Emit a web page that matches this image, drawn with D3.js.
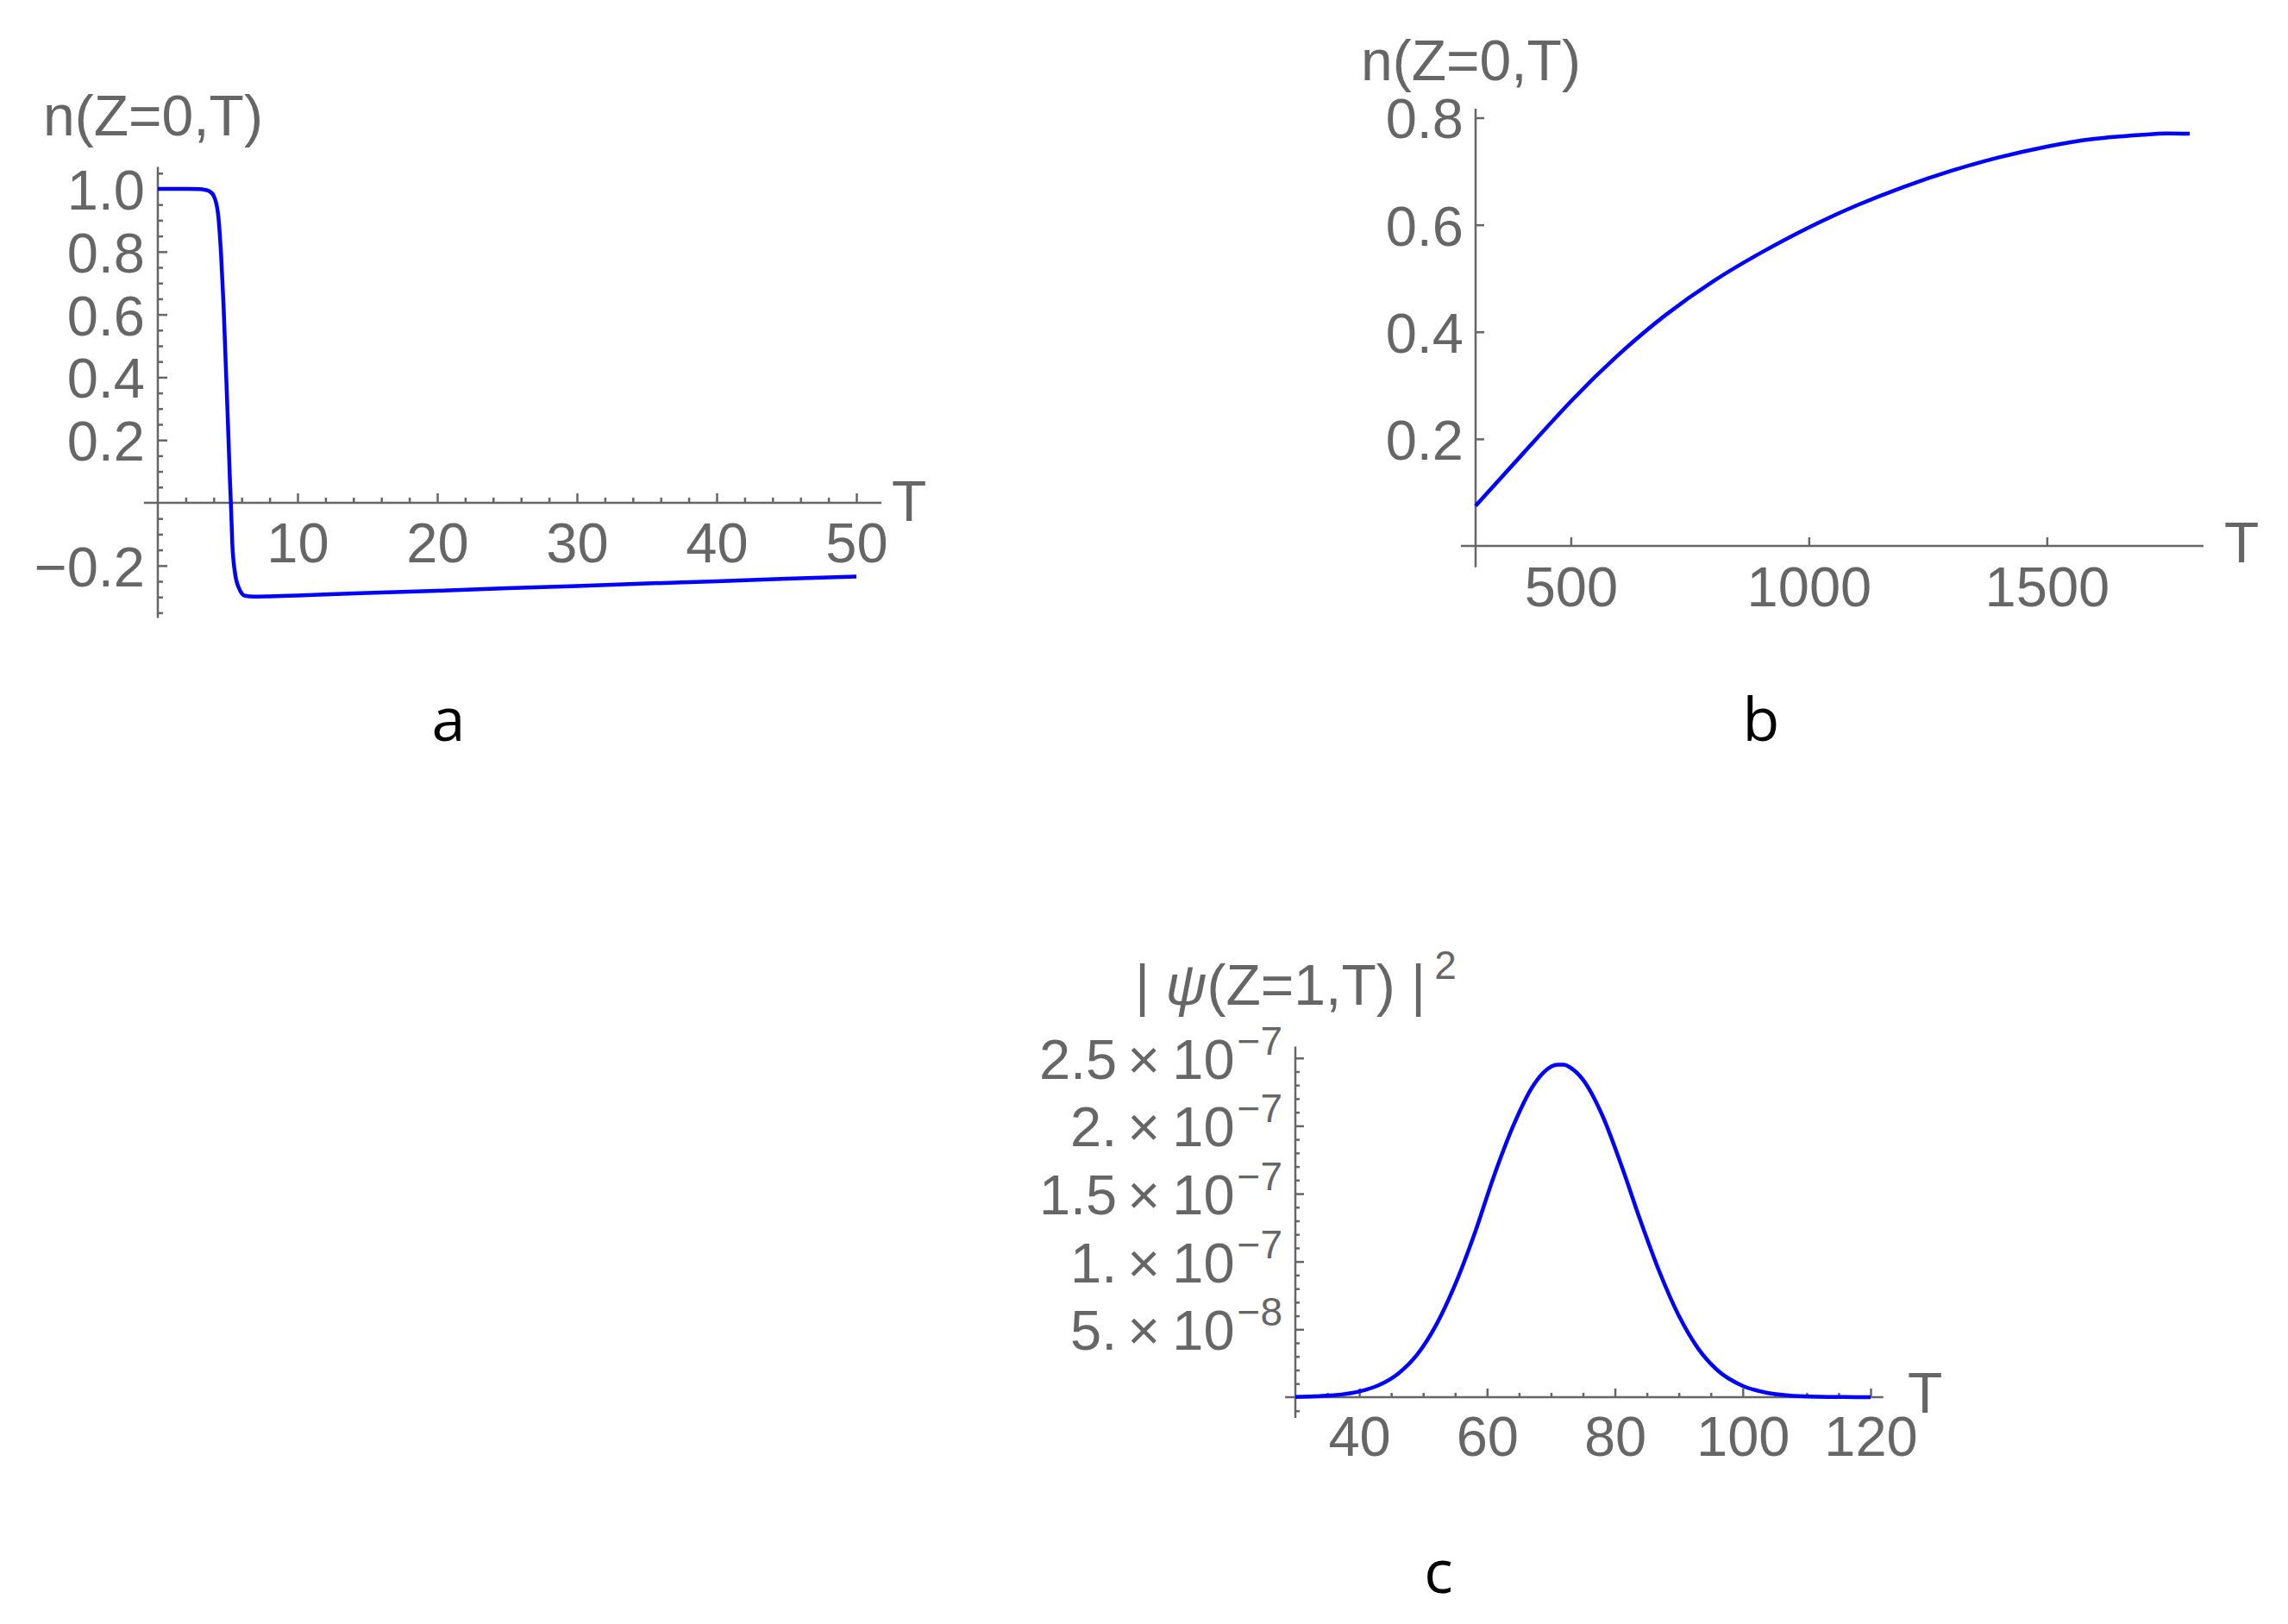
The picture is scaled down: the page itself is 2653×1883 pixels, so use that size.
<!DOCTYPE html>
<meta charset="utf-8">
<style>
  body { margin: 0; background: #fff; }
  svg { display: block; }
  .tick line, .axisline { stroke: #666; stroke-width: 2.5; }
  .ax text, .lab { fill: #666; font-family: "Liberation Sans", Arial, sans-serif; font-size: 65px; }
  .lab { font-size: 66px; }
  .tag { fill: #000; font-family: "Open Sans", sans-serif; font-size: 70px; text-anchor: middle; }
  .curve { fill: none; stroke: #0000ff; stroke-width: 4.5; stroke-linejoin: round; }
</style>
<svg width="2653" height="1883"></svg>
<script src="https://d3js.org/d3.v7.min.js"></script>
<script>

// panel a : n(Z=0,T), short times
var aT = [0, 1, 2, 3, 3.35, 3.7, 4.0, 4.31, 4.52, 4.7, 4.86, 5.02, 5.17, 5.23, 5.33, 5.53, 5.81, 6.23, 6.87, 8, 10, 15, 20, 25, 30, 35, 40, 45, 50];
var aN = [1.0, 1.0, 1.0, 0.999, 0.997, 0.992, 0.978, 0.921, 0.797, 0.634, 0.444, 0.253, 0.062, 0.0, -0.129, -0.225, -0.272, -0.296, -0.299, -0.298, -0.295, -0.287, -0.28, -0.272, -0.265, -0.257, -0.25, -0.242, -0.235];
var aXTicks = [10, 20, 30, 40, 50];
var aYTicks = [-0.2, 0.2, 0.4, 0.6, 0.8, 1.0];
var aYLabels = ["\u22120.2", "0.2", "0.4", "0.6", "0.8", "1.0"];

// panel b : n(Z=0,T), long times
var bT = [300, 400, 500, 600, 700, 800, 900, 1000, 1100, 1200, 1300, 1400, 1500, 1600, 1700, 1750, 1800];
var bN = [0.075, 0.173, 0.27, 0.357, 0.432, 0.495, 0.548, 0.595, 0.636, 0.671, 0.701, 0.726, 0.746, 0.7605, 0.768, 0.7705, 0.770];
var bXTicks = [500, 1000, 1500];
var bYTicks = [0.2, 0.4, 0.6, 0.8];
var bYLabels = ["0.2", "0.4", "0.6", "0.8"];

// panel c : |psi(Z=1,T)|^2
var cT = [30, 33, 36, 40, 43, 46, 49, 52, 55, 58, 61, 64, 67, 69, 71, 72, 73, 75, 78, 81, 84, 87, 90, 93, 96, 100, 104, 108, 112, 116, 120];
var cPsi = [0.002e-7, 0.006e-7, 0.014e-7, 0.042e-7, 0.087e-7, 0.17e-7, 0.31e-7, 0.53e-7, 0.83e-7, 1.2e-7, 1.62e-7, 1.99e-7, 2.28e-7, 2.4e-7, 2.45e-7, 2.45e-7, 2.43e-7, 2.34e-7, 2.08e-7, 1.71e-7, 1.3e-7, 0.92e-7, 0.6e-7, 0.36e-7, 0.2e-7, 0.083e-7, 0.03e-7, 0.01e-7, 0.003e-7, 0.001e-7, 0.0];
var cXTicks = [40, 60, 80, 100, 120];
var cYTicks = [5e-8, 1e-7, 1.5e-7, 2e-7, 2.5e-7];
var cYMant = ["5.", "1.", "1.5", "2.", "2.5"];
var cYExp = ["\u22128", "\u22127", "\u22127", "\u22127", "\u22127"];

var svg = d3.select("svg");

function drawPanel(p) {
  var g = svg.append("g");
  var ox = p.x(p.x0), oy = p.y(0);

  // minor ticks
  g.append("g").attr("class", "ax").attr("transform", "translate(0," + oy + ")")
    .call(d3.axisBottom(p.x).tickValues(p.xMinor).tickSize(-p.minor).tickFormat(""))
    .select(".domain").remove();
  g.append("g").attr("class", "ax").attr("transform", "translate(" + ox + ",0)")
    .call(d3.axisLeft(p.y).tickValues(p.yMinor).tickSize(-p.minor).tickFormat(""))
    .select(".domain").remove();

  // major ticks + labels
  var gx = g.append("g").attr("class", "ax").attr("transform", "translate(0," + oy + ")")
    .call(d3.axisBottom(p.x).tickValues(p.xTicks).tickSize(-p.major).tickFormat(d3.format("d")));
  gx.select(".domain").remove();
  gx.selectAll(".tick text").attr("y", p.xLabDy).attr("dy", null).attr("font-size", null).attr("font-family", null);

  var gy = g.append("g").attr("class", "ax").attr("transform", "translate(" + ox + ",0)")
    .call(d3.axisLeft(p.y).tickValues(p.yTicks).tickSize(-p.major)
      .tickFormat(function(d, i) { return p.yLabels ? p.yLabels[i] : ""; }));
  gy.select(".domain").remove();
  gy.selectAll(".tick text").attr("x", -p.yLabGap).attr("dy", "0.36em").attr("font-size", null).attr("font-family", null);
  if (p.yLabelFn) gy.selectAll(".tick text").each(p.yLabelFn);

  // axis lines
  g.append("line").attr("class", "axisline")
    .attr("x1", p.x(p.xExt[0])).attr("x2", p.x(p.xExt[1])).attr("y1", oy).attr("y2", oy);
  g.append("line").attr("class", "axisline")
    .attr("x1", ox).attr("x2", ox).attr("y1", p.y(p.yExt[0])).attr("y2", p.y(p.yExt[1]));

  // curve
  var line = d3.line()
    .x(function(d) { return p.x(d[0]); })
    .y(function(d) { return p.y(d[1]); })
    .curve(p.curve);
  g.append("path").attr("class", "curve").attr("d", line(d3.zip(p.T, p.V)));

  return g;
}

// ---- a
var ga = drawPanel({
  x: d3.scaleLinear().domain([0, 50]).range([183, 993]),
  y: d3.scaleLinear().domain([0, 1]).range([583, 219]),
  x0: 0, xExt: [-1, 51.8], yExt: [-0.367, 1.07],
  xTicks: aXTicks, yTicks: aYTicks, yLabels: aYLabels,
  xMinor: d3.range(2, 50, 2).filter(function(v) { return v % 10; }),
  yMinor: d3.range(-7, 22).map(function(k) { return k * 0.05; }).filter(function(v) { return Math.abs(Math.round(v * 100)) % 20 && Math.abs(v) > 0.01; }),
  major: 11, minor: 6, xLabDy: 69, yLabGap: 15,
  T: aT, V: aN, curve: d3.curveMonotoneX
});
ga.append("text").attr("class", "lab").attr("x", 50).attr("y", 157).text("n(Z=0,T)");
ga.append("text").attr("class", "lab").attr("x", 1034).attr("y", 604).text("T");
ga.append("text").attr("class", "tag").attr("x", 520).attr("y", 859).text("a");

// ---- b
var gb = drawPanel({
  x: d3.scaleLinear().domain([300, 1800]).range([1711, 2539]),
  y: d3.scaleLinear().domain([0, 0.8]).range([633, 136.5]),
  x0: 300, xExt: [269, 1829], yExt: [-0.04, 0.817],
  xTicks: bXTicks, yTicks: bYTicks, yLabels: bYLabels,
  xMinor: [], yMinor: [],
  major: 10, minor: 5, xLabDy: 70, yLabGap: 14,
  T: bT, V: bN, curve: d3.curveNatural
});
gb.append("text").attr("class", "lab").attr("x", 1578).attr("y", 93).text("n(Z=0,T)");
gb.append("text").attr("class", "lab").attr("x", 2579).attr("y", 652).text("T");
gb.append("text").attr("class", "tag").attr("x", 2042).attr("y", 859).text("b");

// ---- c
var gc = drawPanel({
  x: d3.scaleLinear().domain([30, 120]).range([1502, 2169]),
  y: d3.scaleLinear().domain([0, 2.5e-7]).range([1620, 1226.7]),
  x0: 30, xExt: [28.4, 122], yExt: [-0.153e-7, 2.584e-7],
  xTicks: cXTicks, yTicks: cYTicks, yLabels: null,
  xMinor: d3.range(35, 120, 5).filter(function(v) { return v % 20; }),
  yMinor: d3.range(-1, 25).filter(function(k) { return k % 5; }).map(function(k) { return k * 1e-8; }),
  major: 10, minor: 5, xLabDy: 68, yLabGap: 15,
  yLabelFn: function(d, i) {
    var t = d3.select(this).text(null);
    t.append("tspan").text(cYMant[i]);
    t.append("tspan").attr("dx", 12).text("\u00d7");
    t.append("tspan").attr("dx", 14).text("10");
    t.append("tspan").attr("dx", 3).attr("dy", -28).attr("font-size", 46).text(cYExp[i]);
  },
  T: cT, V: cPsi, curve: d3.curveMonotoneX
});
var lc = gc.append("text").attr("class", "lab").attr("x", 1316).attr("y", 1165);
lc.append("tspan").text("| ");
lc.append("tspan").attr("font-style", "italic").text("\u03c8");
lc.append("tspan").text("(Z=1,T) |");
lc.append("tspan").attr("dx", 10).attr("dy", -30).attr("font-size", 46).text("2");
gc.append("text").attr("class", "lab").attr("x", 2212).attr("y", 1638).text("T");
gc.append("text").attr("class", "tag").attr("x", 1668).attr("y", 1847).text("c");

</script>
